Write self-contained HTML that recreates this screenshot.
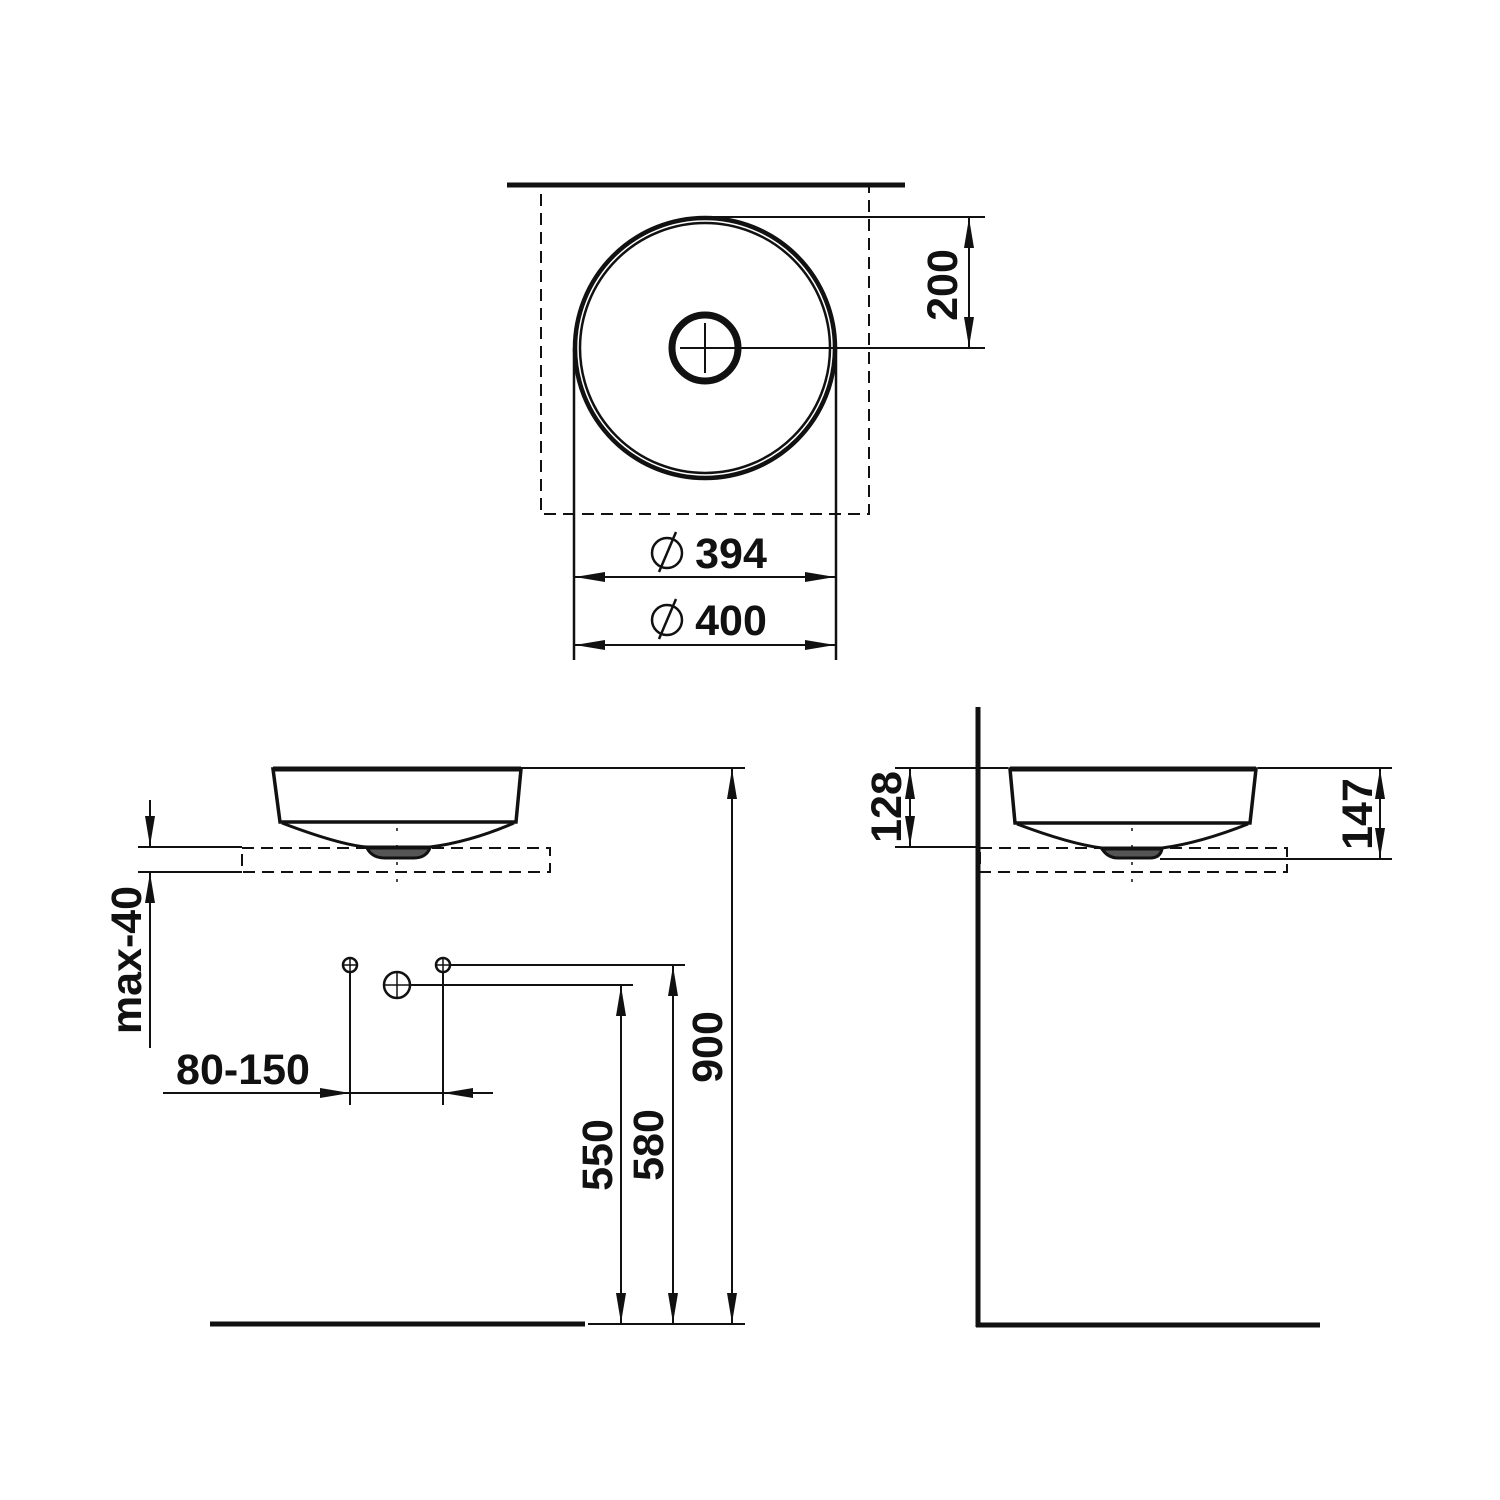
<!DOCTYPE html>
<html><head><meta charset="utf-8"><style>
html,body{margin:0;padding:0;background:#fff}
svg{display:block}
text{font-family:"Liberation Sans",Arial,sans-serif;font-weight:bold;font-size:43px;fill:#111}
</style></head><body>
<svg width="1500" height="1500" viewBox="0 0 1500 1500" xmlns="http://www.w3.org/2000/svg">
<defs>
<polygon id="au" points="0,0 -5,30 5,30" fill="#111"/>
<polygon id="ad" points="0,0 -5,-30 5,-30" fill="#111"/>
<polygon id="al" points="0,0 30,-5 30,5" fill="#111"/>
<polygon id="ar" points="0,0 -30,-5 -30,5" fill="#111"/>
</defs>
<g stroke="#111" fill="none">
<line x1="507" y1="185" x2="905" y2="185" stroke-width="5"/>
<rect x="541" y="186" width="328" height="328" stroke-width="2" stroke-dasharray="12,7"/>
<circle cx="705" cy="348" r="130" stroke-width="4.5"/>
<circle cx="705" cy="348" r="125" stroke-width="2.5"/>
<circle cx="705" cy="348" r="33" stroke-width="7"/>
<line x1="680" y1="348" x2="985" y2="348" stroke-width="2"/>
<line x1="705" y1="323" x2="705" y2="373" stroke-width="2"/>
<line x1="705" y1="217" x2="985" y2="217" stroke-width="2"/>
<line x1="969" y1="217" x2="969" y2="348" stroke-width="2"/>
<line x1="574" y1="348" x2="574" y2="660" stroke-width="2.5"/>
<line x1="836" y1="348" x2="836" y2="660" stroke-width="2.5"/>
<line x1="574" y1="577" x2="836" y2="577" stroke-width="2"/>
<line x1="574" y1="645" x2="836" y2="645" stroke-width="2"/>
<circle cx="667" cy="553" r="15" stroke-width="2.5"/>
<line x1="659" y1="572" x2="676" y2="532" stroke-width="2.5"/>
<circle cx="667" cy="620" r="15" stroke-width="2.5"/>
<line x1="659" y1="639" x2="676" y2="599" stroke-width="2.5"/>

<path d="M273,769 L521,769 L516,822 L280,822 Z" stroke-width="3.5"/>
<line x1="273" y1="769" x2="521" y2="769" stroke-width="5"/>
<path d="M282,823 Q340,845 367,847 L430,847 Q470,842 514,823" stroke-width="3"/>
<path d="M367,848 Q372,858 385,858 L414,858 Q426,858 430,848 Z" stroke-width="3" fill="#555"/>
<rect x="242" y="848" width="308" height="24" stroke-width="2" stroke-dasharray="12,7"/>
<line x1="397" y1="828" x2="397" y2="884" stroke-width="1.5" stroke-dasharray="3,14"/>
<line x1="521" y1="768" x2="745" y2="768" stroke-width="2"/>
<line x1="138" y1="847" x2="242" y2="847" stroke-width="2"/>
<line x1="138" y1="872" x2="242" y2="872" stroke-width="2"/>
<line x1="150" y1="800" x2="150" y2="847" stroke-width="2"/>
<line x1="150" y1="872" x2="150" y2="1048" stroke-width="2"/>
<circle cx="350" cy="965" r="7" stroke-width="2.5"/>
<circle cx="443" cy="965" r="7" stroke-width="2.5"/>
<circle cx="397" cy="985" r="13" stroke-width="2.5"/>
<path d="M343,965h14M350,958v14M436,965h14M443,958v14M384,985h26M397,972v26" stroke-width="1.5"/>
<line x1="450" y1="965" x2="685" y2="965" stroke-width="2"/>
<line x1="410" y1="985" x2="633" y2="985" stroke-width="2"/>
<line x1="350" y1="972" x2="350" y2="1105" stroke-width="2"/>
<line x1="443" y1="972" x2="443" y2="1105" stroke-width="2"/>
<line x1="163" y1="1093" x2="493" y2="1093" stroke-width="2"/>
<line x1="621" y1="985" x2="621" y2="1324" stroke-width="2"/>
<line x1="673" y1="965" x2="673" y2="1324" stroke-width="2"/>
<line x1="732" y1="768" x2="732" y2="1324" stroke-width="2"/>
<line x1="210" y1="1324" x2="585" y2="1324" stroke-width="5"/>
<line x1="588" y1="1324" x2="745" y2="1324" stroke-width="2"/>

<line x1="978" y1="707" x2="978" y2="1327" stroke-width="5"/>
<line x1="976" y1="1325" x2="1320" y2="1325" stroke-width="5"/>
<path d="M1010,769 L1256,769 L1250,823 L1015,823 Z" stroke-width="3.5"/>
<line x1="1010" y1="769" x2="1256" y2="769" stroke-width="5"/>
<path d="M1017,824 Q1070,844 1102,848 L1162,848 Q1200,843 1248,824" stroke-width="3"/>
<path d="M1102,849 Q1108,858 1118,858 L1150,858 Q1160,858 1162,849 Z" stroke-width="3" fill="#555"/>
<rect x="980" y="848" width="307" height="24" stroke-width="2" stroke-dasharray="12,7"/>
<line x1="1132" y1="828" x2="1132" y2="884" stroke-width="1.5" stroke-dasharray="3,14"/>
<line x1="895" y1="768" x2="1008" y2="768" stroke-width="2"/>
<line x1="1258" y1="768" x2="1392" y2="768" stroke-width="2"/>
<line x1="895" y1="847" x2="980" y2="847" stroke-width="2"/>
<line x1="1160" y1="859" x2="1392" y2="859" stroke-width="2"/>
<line x1="910" y1="768" x2="910" y2="847" stroke-width="2"/>
<line x1="1380" y1="768" x2="1380" y2="859" stroke-width="2"/>
</g>
<use href="#au" x="969" y="218"/><use href="#ad" x="969" y="347"/>
<use href="#al" x="575" y="577"/><use href="#ar" x="835" y="577"/>
<use href="#al" x="575" y="645"/><use href="#ar" x="835" y="645"/>
<use href="#ad" x="150" y="846"/><use href="#au" x="150" y="873"/>
<use href="#ar" x="350" y="1093"/><use href="#al" x="443" y="1093"/>
<use href="#au" x="621" y="986"/><use href="#ad" x="621" y="1323"/>
<use href="#au" x="673" y="966"/><use href="#ad" x="673" y="1323"/>
<use href="#au" x="732" y="769"/><use href="#ad" x="732" y="1323"/>
<use href="#au" x="910" y="769"/><use href="#ad" x="910" y="846"/>
<use href="#au" x="1380" y="769"/><use href="#ad" x="1380" y="858"/>
<text x="731" y="568" text-anchor="middle">394</text>
<text x="731" y="635" text-anchor="middle">400</text>
<text transform="translate(957,285) rotate(-90)" text-anchor="middle">200</text>
<text transform="translate(141,960) rotate(-90)" text-anchor="middle">max-40</text>
<text x="243" y="1084" text-anchor="middle">80-150</text>
<text transform="translate(612,1155) rotate(-90)" text-anchor="middle">550</text>
<text transform="translate(663,1145) rotate(-90)" text-anchor="middle">580</text>
<text transform="translate(722,1047) rotate(-90)" text-anchor="middle">900</text>
<text transform="translate(901,807) rotate(-90)" text-anchor="middle">128</text>
<text transform="translate(1372,814) rotate(-90)" text-anchor="middle">147</text>
</svg>
</body></html>
